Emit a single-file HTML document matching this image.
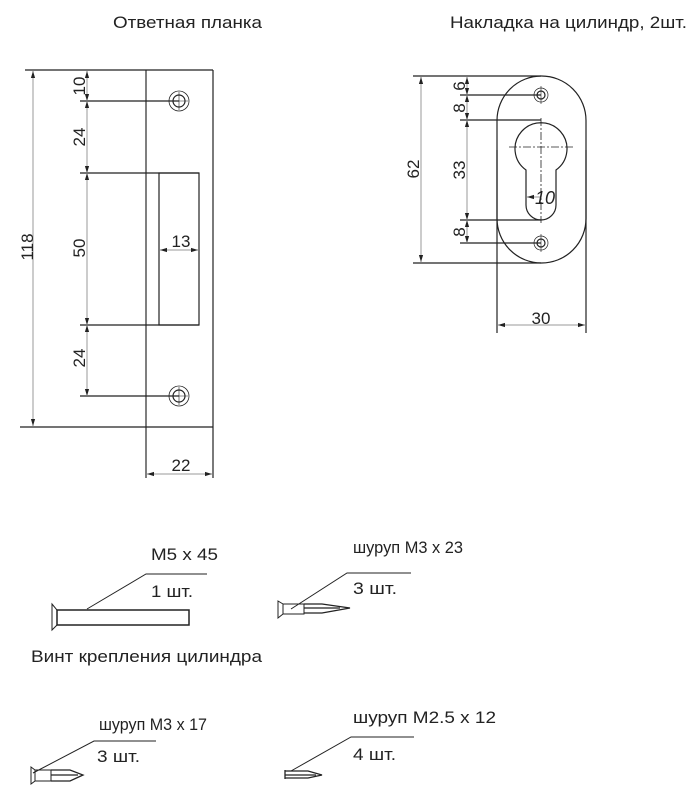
<!DOCTYPE html>
<html><head><meta charset="utf-8"><style>
html,body{margin:0;padding:0;background:#fff;}
svg{display:block;}
text{font-family:"Liberation Sans",sans-serif;fill:#222;}
</style></head><body>
<svg width="697" height="791" viewBox="0 0 697 791" xmlns="http://www.w3.org/2000/svg">
<defs>
<marker id="a" viewBox="0 0 10 10" refX="10" refY="5" markerWidth="7" markerHeight="7" orient="auto-start-reverse"><path d="M0,2 L10,5 L0,8z" fill="#222"/></marker>
</defs>
<text x="113" y="28" font-size="16.5" textLength="149" lengthAdjust="spacingAndGlyphs">Ответная планка</text>
<text x="450" y="28" font-size="16.5" textLength="237" lengthAdjust="spacingAndGlyphs">Накладка на цилиндр, 2шт.</text>

<!-- strike plate -->
<g stroke="#222" fill="none" stroke-width="1.2">
<line x1="146" y1="70" x2="146" y2="478" stroke="#555" stroke-width="1.5"/>
<line x1="213" y1="70" x2="213" y2="478"/>
<line x1="25" y1="70" x2="213" y2="70"/>
<line x1="20" y1="427" x2="213" y2="427"/>
<line x1="80" y1="101" x2="179" y2="101"/>
<line x1="80" y1="173" x2="199" y2="173"/>
<line x1="80" y1="325" x2="199" y2="325"/>
<line x1="80" y1="396" x2="179" y2="396"/>
<rect x="159" y="173" width="40" height="152"/>
<circle cx="179" cy="101" r="10" stroke-width="0.8"/><circle cx="179" cy="101" r="6"/>
<circle cx="179" cy="396" r="10" stroke-width="0.8"/><circle cx="179" cy="396" r="6"/>
<path d="M179 92V110M170 101H188M179 387V405M170 396H188" stroke-width="0.6"/>
</g>
<g stroke="#999" stroke-width="1" fill="none">
<line x1="33" y1="71" x2="33" y2="426" marker-start="url(#a)" marker-end="url(#a)"/>
<line x1="87" y1="71" x2="87" y2="101" marker-start="url(#a)" marker-end="url(#a)"/>
<line x1="87" y1="101" x2="87" y2="173" marker-start="url(#a)" marker-end="url(#a)"/>
<line x1="87" y1="173" x2="87" y2="325" marker-start="url(#a)" marker-end="url(#a)"/>
<line x1="87" y1="325" x2="87" y2="396" marker-start="url(#a)" marker-end="url(#a)"/>
<line x1="160" y1="250" x2="198" y2="250" marker-start="url(#a)" marker-end="url(#a)"/>
<line x1="147" y1="474" x2="212" y2="474" marker-start="url(#a)" marker-end="url(#a)"/>
</g>
<g font-size="17">
<text transform="translate(33,247) rotate(-90)" text-anchor="middle">118</text>
<text transform="translate(85,86) rotate(-90)" text-anchor="middle">10</text>
<text transform="translate(85,137) rotate(-90)" text-anchor="middle">24</text>
<text transform="translate(85,248) rotate(-90)" text-anchor="middle">50</text>
<text transform="translate(85,358) rotate(-90)" text-anchor="middle">24</text>
<text x="181" y="247" text-anchor="middle">13</text>
<text x="181" y="471" text-anchor="middle">22</text>
</g>

<!-- cylinder pad -->
<g stroke="#222" fill="none" stroke-width="1.2">
<rect x="497" y="76" width="89" height="187" rx="44.5" ry="44.5"/>
<line x1="497" y1="150" x2="497" y2="333"/>
<line x1="586" y1="150" x2="586" y2="333"/>
<line x1="413" y1="76" x2="541" y2="76"/>
<line x1="413" y1="263" x2="541" y2="263"/>
<line x1="460" y1="95" x2="541" y2="95"/>
<line x1="460" y1="120" x2="541" y2="120"/>
<line x1="460" y1="220" x2="541" y2="220"/>
<line x1="460" y1="243" x2="541" y2="243"/>
<path d="M526 170 A26 26 0 1 1 556 170 L556 205 A15 15 0 0 1 526 205 Z"/>
<circle cx="541" cy="95" r="7" stroke-width="0.7"/><circle cx="541" cy="95" r="4"/>
<circle cx="541" cy="243" r="7" stroke-width="0.7"/><circle cx="541" cy="243" r="4"/>
<path d="M541 86V104M541 234V252" stroke-width="0.6"/>
<line x1="541" y1="118" x2="541" y2="223" stroke-dasharray="8,2,2,2" stroke-width="0.8"/>
<line x1="509" y1="147" x2="574" y2="147" stroke-dasharray="8,2,2,2" stroke-width="0.8"/>
</g>
<g stroke="#999" stroke-width="1" fill="none">
<line x1="421" y1="77" x2="421" y2="262" marker-start="url(#a)" marker-end="url(#a)"/>
<line x1="467" y1="77" x2="467" y2="95" marker-start="url(#a)" marker-end="url(#a)"/>
<line x1="467" y1="95" x2="467" y2="120" marker-start="url(#a)" marker-end="url(#a)"/>
<line x1="467" y1="120" x2="467" y2="220" marker-start="url(#a)" marker-end="url(#a)"/>
<line x1="467" y1="220" x2="467" y2="243" marker-start="url(#a)" marker-end="url(#a)"/>
<line x1="541" y1="197" x2="527" y2="197" marker-end="url(#a)"/>
<line x1="498" y1="325" x2="585" y2="325" marker-start="url(#a)" marker-end="url(#a)"/>
</g>
<g font-size="17">
<text transform="translate(419,169) rotate(-90)" text-anchor="middle">62</text>
<text transform="translate(465,86) rotate(-90)" text-anchor="middle">6</text>
<text transform="translate(465,108) rotate(-90)" text-anchor="middle">8</text>
<text transform="translate(465,170) rotate(-90)" text-anchor="middle">33</text>
<text transform="translate(465,232) rotate(-90)" text-anchor="middle">8</text>
<text x="545" y="204" text-anchor="middle" font-style="italic" font-size="18">10</text>
<text x="541" y="324" text-anchor="middle">30</text>
</g>

<!-- hardware -->
<g font-size="16.5">
<text x="151" y="560" textLength="67" lengthAdjust="spacingAndGlyphs">M5 x 45</text>
<text x="151" y="597" textLength="42" lengthAdjust="spacingAndGlyphs">1 шт.</text>
<text x="353" y="553" textLength="110" lengthAdjust="spacingAndGlyphs">шуруп M3 x 23</text>
<text x="353" y="594" textLength="44" lengthAdjust="spacingAndGlyphs">3 шт.</text>
<text x="31" y="662" textLength="231" lengthAdjust="spacingAndGlyphs">Винт крепления цилиндра</text>
<text x="99" y="730" textLength="108" lengthAdjust="spacingAndGlyphs">шуруп M3 x 17</text>
<text x="97" y="762" textLength="43" lengthAdjust="spacingAndGlyphs">3 шт.</text>
<text x="353" y="723" textLength="143" lengthAdjust="spacingAndGlyphs">шуруп M2.5 x 12</text>
<text x="353" y="760" textLength="43" lengthAdjust="spacingAndGlyphs">4 шт.</text>
</g>
<g stroke="#222" fill="none" stroke-width="1">
<path d="M87 609L146 574H207"/>
<path d="M52 604L57 610V625L52 630Z"/>
<rect x="57" y="610" width="132" height="15" stroke-width="1.5"/>
<path d="M291 609L347 573H411"/>
<path d="M278 601L283 604V614L278 618Z"/>
<rect x="283" y="604" width="21" height="10"/>
<path d="M304 604H322L350 608L322 613H304M304 608H340" stroke-width="1.3"/>
<path d="M33 773L94 741H156"/>
<path d="M31 767L35 770V781L31 784Z"/>
<rect x="35" y="770" width="16" height="11"/>
<path d="M51 770H70L83 775L70 781H51M51 775H78" stroke-width="1.3"/>
<path d="M291 771L351 737H414"/>
<path d="M285 770V779M285 771H308L322 775L308 778H285M285 775H316" stroke-width="1.3"/>
</g>
</svg>
</body></html>
